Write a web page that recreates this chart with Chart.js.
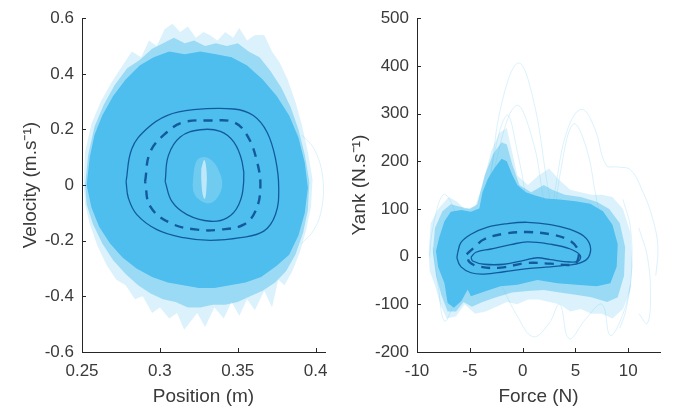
<!DOCTYPE html>
<html>
<head>
<meta charset="utf-8">
<script src="https://cdn.jsdelivr.net/npm/chart.js@4.4.1/dist/chart.umd.min.js"></script>
<style>
html,body{margin:0;padding:0;background:#fff;}
#wrap{position:relative;width:675px;height:413px;overflow:hidden;}
canvas{position:absolute;top:0;}
#c1{left:0;}
#c2{left:337px;}
</style>
</head>
<body>
<div id="wrap">
<canvas id="c1" width="337" height="413"></canvas>
<canvas id="c2" width="338" height="413"></canvas>
</div>
<script>
// ---------- Left panel: Position (m) vs Velocity (m.s-1) ----------
const posTicks = [0.25, 0.3, 0.35, 0.4];
const velTicks = [-0.6, -0.4, -0.2, 0, 0.2, 0.4, 0.6];

// envelope of the faint individual trajectories (outer wisps)
const leftCloudFaint = [
 [0.251,0.0],[0.252,0.12],[0.256,0.22],[0.262,0.30],[0.269,0.37],[0.276,0.43],[0.282,0.48],[0.288,0.46],
 [0.293,0.52],[0.298,0.50],[0.303,0.56],[0.308,0.58],[0.313,0.55],[0.318,0.57],[0.323,0.53],[0.328,0.55],
 [0.332,0.54],[0.337,0.52],[0.342,0.55],[0.347,0.53],[0.351,0.565],[0.356,0.52],[0.361,0.54],[0.367,0.54],
 [0.372,0.48],[0.377,0.44],[0.382,0.38],[0.387,0.30],[0.391,0.22],[0.395,0.12],[0.398,0.02],[0.397,-0.08],
 [0.394,-0.16],[0.390,-0.24],[0.385,-0.31],[0.380,-0.36],[0.376,-0.34],[0.372,-0.44],[0.367,-0.38],
 [0.361,-0.45],[0.356,-0.41],[0.351,-0.47],[0.346,-0.42],[0.341,-0.48],[0.335,-0.44],[0.329,-0.51],
 [0.324,-0.46],[0.3156,-0.52],[0.311,-0.46],[0.306,-0.48],[0.300,-0.44],[0.295,-0.46],[0.289,-0.40],
 [0.284,-0.41],[0.278,-0.36],[0.272,-0.34],[0.266,-0.29],[0.260,-0.22],[0.255,-0.14],[0.252,-0.07]
];
// medium-density band
const leftCloudMid = [
 [0.252,0.0],[0.254,0.11],[0.258,0.21],[0.264,0.29],[0.271,0.36],[0.279,0.42],[0.287,0.45],[0.295,0.49],
 [0.302,0.51],[0.309,0.53],[0.316,0.51],[0.322,0.52],[0.329,0.50],[0.336,0.51],[0.343,0.50],[0.350,0.51],
 [0.357,0.48],[0.364,0.46],[0.371,0.41],[0.378,0.35],[0.384,0.28],[0.389,0.20],[0.393,0.11],[0.396,0.01],
 [0.395,-0.09],[0.392,-0.17],[0.387,-0.25],[0.381,-0.31],[0.374,-0.35],[0.366,-0.38],[0.358,-0.40],
 [0.350,-0.42],[0.342,-0.43],[0.334,-0.43],[0.326,-0.44],[0.318,-0.44],[0.310,-0.42],[0.302,-0.41],
 [0.294,-0.39],[0.286,-0.36],[0.278,-0.32],[0.270,-0.27],[0.263,-0.21],[0.257,-0.14],[0.253,-0.07]
];
// dense core of the trajectories
const leftCloudCore = [
 [0.253,0.0],[0.255,0.10],[0.258,0.18],[0.263,0.25],[0.270,0.32],[0.278,0.38],[0.287,0.43],[0.296,0.46],
 [0.306,0.48],[0.316,0.47],[0.326,0.48],[0.336,0.47],[0.346,0.46],[0.356,0.43],[0.366,0.38],[0.375,0.32],
 [0.383,0.25],[0.389,0.17],[0.393,0.08],[0.395,-0.01],[0.393,-0.10],[0.389,-0.18],[0.383,-0.25],
 [0.375,-0.29],[0.365,-0.33],[0.355,-0.35],[0.345,-0.36],[0.335,-0.37],[0.325,-0.37],[0.315,-0.36],
 [0.305,-0.35],[0.295,-0.33],[0.285,-0.30],[0.276,-0.26],[0.268,-0.21],[0.261,-0.15],[0.256,-0.08]
];
// the sparse spot in the middle of the loops
const leftHoleOuter = [
 [0.321,0.0],[0.323,0.08],[0.327,0.10],[0.333,0.09],[0.338,0.05],[0.340,0.0],[0.337,-0.045],
 [0.332,-0.065],[0.326,-0.055],[0.322,-0.03]
];
const leftHoleCore = [
 [0.3266,0.06],[0.3285,0.09],[0.3300,0.05],[0.3298,-0.02],[0.3288,-0.05],[0.3275,-0.035],[0.3266,0.02]
];
// one faint trajectory escaping to the right
const leftStray = [[0.391,0.18],[0.399,0.13],[0.4045,0.03],[0.404,-0.08],[0.399,-0.16],[0.391,-0.21]];

// mean and dispersion contours
const leftOuterContour = [
 [0.2783,0.0125],[0.282,0.131],[0.2916,0.2025],[0.3045,0.25],[0.3216,0.271],[0.3474,0.2735],[0.360,0.25],
 [0.3688,0.19],[0.3742,0.0955],[0.3763,-0.011],[0.3742,-0.106],[0.3667,-0.1656],[0.3517,-0.189],
 [0.3324,-0.199],[0.3152,-0.189],[0.2981,-0.16],[0.2852,-0.106],[0.2798,-0.047]
];
const leftMeanContour = [
 [0.2905,0.0125],[0.2938,0.119],[0.3045,0.19],[0.3152,0.226],[0.3324,0.232],[0.3474,0.226],[0.356,0.179],
 [0.3624,0.0837],[0.3645,-0.011],[0.3613,-0.094],[0.3538,-0.142],[0.3388,-0.16],[0.3238,-0.16],
 [0.3066,-0.136],[0.2938,-0.0766]
];
const leftInnerContour = [
 [0.3034,0.0125],[0.3055,0.107],[0.3131,0.173],[0.326,0.199],[0.3388,0.193],[0.3474,0.155],[0.3528,0.0837],
 [0.3538,0.0125],[0.3506,-0.0705],[0.3431,-0.118],[0.3324,-0.13],[0.3174,-0.106],[0.3077,-0.0588]
];

// ---------- Right panel: Force (N) vs Yank (N.s-1) ----------
const forceTicks = [-10, -5, 0, 5, 10];
const yankTicks = [-200, -100, 0, 100, 200, 300, 400, 500];

const rightCloudFaint = [
 [-8.9,10],[-8.7,70],[-8.0,100],[-7.0,125],[-6.2,115],[-5.5,100],[-4.5,105],[-3.8,150],[-3.0,220],
 [-2.2,260],[-1.5,270],[-1.0,220],[-0.5,170],[0.5,150],[1.5,170],[2.5,185],[3.5,160],[4.5,140],
 [5.5,135],[6.5,130],[7.5,130],[8.5,125],[9.5,100],[10.2,50],[10.4,-20],[10.2,-70],[9.5,-110],
 [8.5,-130],[7.5,-120],[6.5,-120],[5.5,-110],[4.5,-115],[3.5,-100],[2.5,-95],[1.5,-90],[0.5,-90],
 [-0.5,-100],[-1.5,-95],[-2.5,-105],[-3.5,-115],[-4.5,-120],[-5.5,-100],[-6.3,-125],[-7.2,-130],
 [-7.8,-100],[-8.3,-60],[-8.8,-30]
];
const rightCloudMid = [
 [-8.5,10],[-8.3,60],[-7.6,95],[-6.8,110],[-6.0,105],[-5.0,100],[-4.3,110],[-3.6,170],[-2.8,215],
 [-2.0,240],[-1.5,235],[-1.0,195],[-0.3,150],[0.8,135],[2.0,150],[2.8,140],[4.0,130],[5.5,125],
 [7.0,115],[8.2,100],[9.2,70],[9.7,20],[9.6,-40],[9.0,-85],[8.0,-95],[6.5,-85],[5.0,-80],[3.5,-75],
 [2.0,-70],[0.5,-72],[-1.0,-75],[-2.5,-85],[-3.8,-95],[-4.8,-105],[-5.6,-95],[-6.3,-115],[-7.1,-115],
 [-7.7,-80],[-8.2,-40]
];
const rightCloudCore = [
 [-8.2,12],[-7.9,40],[-7.4,74],[-6.8,94],[-5.8,98],[-4.9,94],[-4.1,101],[-3.8,135],[-3.3,163],
 [-2.7,185],[-2.0,205],[-1.5,200],[-1.0,172],[-0.5,150],[0.3,135],[1.2,128],[2.2,122],[3.5,120],
 [5.0,116],[6.4,111],[7.6,95],[8.5,67],[9.0,26],[8.9,-21],[8.3,-56],[7.0,-62],[5.1,-59],[3.3,-56],
 [1.4,-49],[-0.5,-59],[-2.1,-62],[-3.6,-73],[-4.9,-83],[-5.2,-69],[-5.8,-93],[-6.5,-107],[-7.1,-97],
 [-7.4,-56],[-8.0,-22]
];
// faint outlier trajectories
const rightStray1 = [[-4.0,40],[-3.1,157],[-2.0,320],[-0.4,406],[1.0,330],[2.3,157],[3.2,40]];
const rightStray2 = [[-3.5,60],[-2.5,200],[-0.6,317],[1.0,240],[2.0,120],[3.0,30]];
const rightStray3 = [[-4.0,30],[-3.0,180],[-1.5,296],[-0.5,220],[0.5,100]];
const rightStray4 = [[2.5,40],[3.2,157],[4.3,270],[5.6,309],[6.8,270],[7.9,192],[9.0,188],[10.2,182],
 [11.3,140],[12.3,80],[12.8,20],[12.6,-40]];
const rightStray5 = [[2.8,40],[3.6,180],[4.8,278],[6.0,230],[7.0,120],[7.8,40]];
const rightStray6 = [[-2.0,-60],[-0.5,-125],[1.0,-168],[2.5,-140],[3.5,-100],[4.4,-172],[6.0,-130],
 [7.5,-100],[8.3,-165],[9.5,-120],[10.2,-60]];
const rightStray7 = [[-8.5,20],[-8.0,-60],[-7.4,-135],[-6.5,-100],[-5.5,-60]];
const rightStray8 = [[11.0,60],[11.8,0],[12.1,-80],[11.8,-140],[11.0,-120]];
const rightStray9 = [[-8.8,0],[-8.5,60],[-7.5,130],[-6.5,100],[-6.0,40]];
const rightStray10 = [[9.5,120],[10.2,60],[10.3,-30],[9.8,-110],[9.2,-150]];

const rightOuterContour = [
 [-6.14,9.2],[-5.83,29.7],[-4.89,46.8],[-3.32,61.8],[-1.44,69.3],[0.44,72],[2.63,67.2],[4.51,57],
 [5.77,43.3],[6.39,22.9],[6.24,-1],[5.45,-13.3],[4.2,-18],[2.63,-21.5],[0.44,-25],[-1.76,-31.7],
 [-3.64,-36.5],[-4.89,-33.8],[-5.83,-21.5],[-6.2,-4.4]
];
const rightMeanContour = [
 [-5.3,5],[-4.58,19.5],[-3.64,36.5],[-1.76,48],[0.44,51.5],[2.63,46.8],[4.2,36.5],[5.1,20],[5.3,0],
 [4.83,-16],[2.63,-14.7],[0.44,-13.3],[-2.07,-23],[-3.95,-21.5],[-5.0,-12]
];
const rightInnerContour = [
 [-4.89,-1],[-4.42,9.2],[-3.0,16],[-1.13,25],[0.44,31],[2.63,26],[4.51,16],[5.45,2.4],[5.3,-9],
 [4.5,-11.3],[2.63,-6.5],[1.38,-2.4],[0.13,-7.8],[-1.76,-16],[-3.64,-16],[-4.73,-9.2]
];

// ---------- helpers ----------
const CLOUD = '77,190,238';
const DARK = '#135a9c';
const AXIS = '#262626';
const TXT = '#3a3a3a';
const toPts = a => a.map(([x, y]) => ({x, y}));
const closed = a => toPts(a.concat([a[0]]));

function area(arr, alpha, order) {
  return {data: closed(arr), showLine: true, fill: 'shape', backgroundColor: `rgba(${CLOUD},${alpha})`,
    borderColor: 'rgba(0,0,0,0)', borderWidth: 0, pointRadius: 0, tension: 0, order};
}
function white(arr, alpha, order) {
  return {data: closed(arr), showLine: true, fill: 'shape', backgroundColor: `rgba(255,255,255,${alpha})`,
    borderColor: 'rgba(0,0,0,0)', borderWidth: 0, pointRadius: 0, tension: 0.4, order};
}
function stray(arr, order) {
  return {data: toPts(arr), showLine: true, fill: false, borderColor: `rgba(${CLOUD},0.2)`,
    borderWidth: 1, pointRadius: 0, tension: 0.4, order};
}
function contour(arr, dashed, order) {
  return {data: closed(arr), showLine: true, fill: false, borderColor: DARK,
    borderWidth: dashed ? 2.4 : 1.3, borderDash: dashed ? [9, 7] : [], pointRadius: 0, tension: 0.4, order};
}

const inwardTicks = {
  id: 'inwardTicks',
  afterDraw(chart) {
    const {ctx, chartArea: a, scales: {x, y}} = chart;
    ctx.save();
    ctx.strokeStyle = AXIS;
    ctx.lineWidth = 1;
    ctx.beginPath();
    x.ticks.forEach(t => { const p = Math.round(x.getPixelForValue(t.value)) + 0.5; ctx.moveTo(p, a.bottom); ctx.lineTo(p, a.bottom - 4); });
    y.ticks.forEach(t => { const p = Math.round(y.getPixelForValue(t.value)) + 0.5; ctx.moveTo(a.left, p); ctx.lineTo(a.left + 4, p); });
    ctx.stroke();
    ctx.restore();
  }
};

function axes(xmin, xmax, xt, xtitle, ymin, ymax, yt, ytitle, yWidth, yTitlePad) {
  const tickFont = {family: '"Liberation Sans", Arial, sans-serif', size: 17};
  const titleFont = {family: '"Liberation Sans", Arial, sans-serif', size: 19};
  return {
    x: {type: 'linear', min: xmin, max: xmax,
      afterBuildTicks: s => { s.ticks = xt.map(v => ({value: v})); },
      afterFit: s => { s.height = 61; },
      grid: {drawOnChartArea: false, drawTicks: false},
      border: {display: true, color: AXIS, width: 1},
      ticks: {color: TXT, font: tickFont, padding: 9, maxRotation: 0, autoSkip: false, callback: v => String(v)},
      title: {display: true, text: xtitle, color: TXT, font: titleFont, padding: {top: 0, bottom: 5}}
    },
    y: {type: 'linear', min: ymin, max: ymax,
      afterBuildTicks: s => { s.ticks = yt.map(v => ({value: v})); },
      afterFit: s => { s.width = yWidth; },
      grid: {drawOnChartArea: false, drawTicks: false},
      border: {display: true, color: AXIS, width: 1},
      ticks: {color: TXT, font: tickFont, padding: 8, autoSkip: false, callback: v => String(v)},
      title: {display: true, text: ytitle, color: TXT, font: titleFont, padding: {top: yTitlePad, bottom: 0}}
    }
  };
}

const common = {
  responsive: false, maintainAspectRatio: false, animation: false,
  plugins: {legend: {display: false}, tooltip: {enabled: false}},
  elements: {line: {capBezierPoints: true}}
};

new Chart(document.getElementById('c1'), {
  type: 'scatter',
  data: {datasets: [
    contour(leftOuterContour, false, 0),
    contour(leftMeanContour, true, 1),
    contour(leftInnerContour, false, 2),
    white(leftHoleCore, 0.55, 3),
    white(leftHoleOuter, 0.2, 4),
    area(leftCloudCore, 1, 5),
    area(leftCloudMid, 0.45, 6),
    area(leftCloudFaint, 0.2, 7),
    stray(leftStray, 8)
  ]},
  options: Object.assign({}, common, {
    layout: {padding: {top: 15, right: 12, left: 0, bottom: 0}},
    scales: axes(0.25, 0.406, posTicks, 'Position (m)', -0.6, 0.6, velTicks, 'Velocity (m.s\u207B\u00B9)', 82, 19)
  }),
  plugins: [inwardTicks]
});

new Chart(document.getElementById('c2'), {
  type: 'scatter',
  data: {datasets: [
    contour(rightOuterContour, false, 0),
    contour(rightMeanContour, true, 1),
    contour(rightInnerContour, false, 2),
    area(rightCloudCore, 1, 3),
    area(rightCloudMid, 0.45, 4),
    area(rightCloudFaint, 0.2, 5),
    stray(rightStray1, 6), stray(rightStray2, 7), stray(rightStray3, 8), stray(rightStray4, 9),
    stray(rightStray5, 10), stray(rightStray6, 11), stray(rightStray7, 12), stray(rightStray8, 13),
    stray(rightStray9, 14), stray(rightStray10, 15)
  ]},
  options: Object.assign({}, common, {
    layout: {padding: {top: 15, right: 15, left: 0, bottom: 0}},
    scales: axes(-10, 13, forceTicks, 'Force (N)', -200, 500, yankTicks, 'Yank (N.s\u207B\u00B9)', 80, 11)
  }),
  plugins: [inwardTicks]
});
</script>
</body>
</html>
